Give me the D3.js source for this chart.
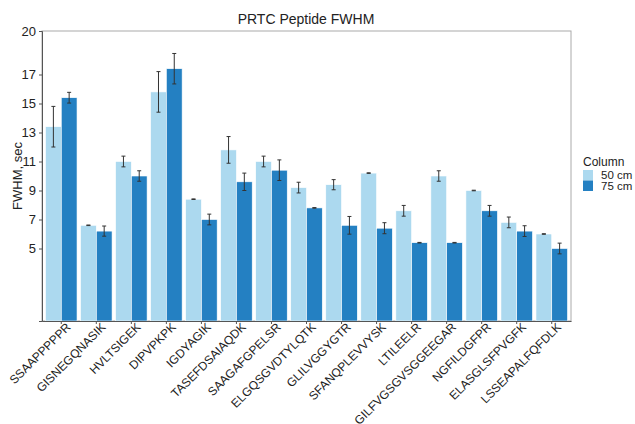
<!DOCTYPE html>
<html>
<head>
<meta charset="utf-8">
<script src="https://cdn.jsdelivr.net/npm/d3@7"></script>
<style>
  body { margin: 0; background: #fff; }
  svg text { font-family: "Liberation Sans", Arial, sans-serif; fill: #222; }
</style>
</head>
<body>
<svg id="chart" width="635" height="424"></svg>
<script>
// Peptides on the x axis
const peptides = ["SSAAPPPPPR", "GISNEGQNASIK", "HVLTSIGEK", "DIPVPKPK", "IGDYAGIK",
  "TASEFDSAIAQDK", "SAAGAFGPELSR", "ELGQSGVDTYLQTK", "GLILVGGYGTR", "SFANQPLEVVYSK",
  "LTILEELR", "GILFVGSGVSGGEEGAR", "NGFILDGFPR", "ELASGLSFPVGFK", "LSSEAPALFQFDLK"];
const columns = ["50 cm", "75 cm"];

// Mean FWHM (sec) and error (sec) per column
const fwhm50 = [13.4, 6.6, 11.0, 15.8, 8.4, 11.8, 11.0, 9.2, 9.4, 10.2, 7.6, 10.0, 9.0, 6.8, 6.0];
const err50  = [1.4, 0.02, 0.37, 1.4, 0.02, 0.92, 0.37, 0.37, 0.35, 0.02, 0.37, 0.36, 0.02, 0.37, 0.02];
const fwhm75 = [15.4, 6.2, 10.0, 17.4, 7.0, 9.6, 10.4, 7.8, 6.6, 6.4, 5.4, 5.4, 7.6, 6.2, 5.0];
const err75  = [0.37, 0.35, 0.36, 1.05, 0.37, 0.6, 0.71, 0.02, 0.61, 0.38, 0.02, 0.02, 0.37, 0.37, 0.37];

const yTicks = [5, 7, 9, 11, 13, 15, 17, 20];
const colors = ["#acd9ef", "#2480c2"];

const rows = peptides.map((p, i) => ({
  peptide: p,
  values: [
    { col: columns[0], v: fwhm50[i], e: err50[i] },
    { col: columns[1], v: fwhm75[i], e: err75[i] }
  ]
}));

const svg = d3.select("#chart");
const m = { left: 42, right: 64, top: 31, bottom: 103 };
const W = 635, H = 424;

const x = d3.scaleBand().domain(peptides).range([m.left, W - m.right])
  .paddingInner(0.1).paddingOuter(0.1);
const xs = d3.scaleBand().domain(columns).range([0, x.bandwidth()]);
const y = d3.scaleLinear().domain([0, 20]).range([H - m.bottom, m.top]);
const color = d3.scaleOrdinal().domain(columns).range(colors);

// frame
svg.append("rect")
  .attr("x", m.left).attr("y", m.top)
  .attr("width", W - m.left - m.right).attr("height", H - m.top - m.bottom)
  .attr("fill", "none").attr("stroke", "#aaa").attr("stroke-width", 1);

// bars
const g = svg.append("g").selectAll("g").data(rows).join("g")
  .attr("transform", d => `translate(${x(d.peptide)},0)`);

g.selectAll("rect").data(d => d.values).join("rect")
  .attr("x", d => xs(d.col))
  .attr("width", xs.bandwidth())
  .attr("y", d => y(d.v))
  .attr("height", d => y(0) - y(d.v))
  .attr("fill", d => color(d.col))
  .attr("stroke", "#fff").attr("stroke-width", 0.6);

// error bars
const eb = g.selectAll("g.err").data(d => d.values).join("g").attr("class", "err")
  .attr("transform", d => `translate(${xs(d.col) + xs.bandwidth() / 2},0)`);
eb.append("line")
  .attr("y1", d => y(d.v - d.e)).attr("y2", d => y(d.v + d.e))
  .attr("stroke", "#333").attr("stroke-width", 1);
eb.append("line")
  .attr("x1", -2).attr("x2", 2)
  .attr("y1", d => y(d.v + d.e)).attr("y2", d => y(d.v + d.e))
  .attr("stroke", "#333").attr("stroke-width", 1);
eb.append("line")
  .attr("x1", -2).attr("x2", 2)
  .attr("y1", d => y(d.v - d.e)).attr("y2", d => y(d.v - d.e))
  .attr("stroke", "#333").attr("stroke-width", 1);

// y axis
const yAxis = svg.append("g")
  .attr("transform", `translate(${m.left},0)`)
  .call(d3.axisLeft(y).tickValues(yTicks).tickSize(3).tickPadding(3));
yAxis.select(".domain").attr("stroke", "#555");
yAxis.selectAll(".tick line").attr("stroke", "#555");
yAxis.selectAll("text").style("font-size", "13px").attr("fill", "#222");

// x axis
const xAxis = svg.append("g")
  .attr("transform", `translate(0,${H - m.bottom})`)
  .call(d3.axisBottom(x).tickSize(3).tickSizeOuter(0));
xAxis.select(".domain").attr("stroke", "#555");
xAxis.selectAll(".tick line").attr("stroke", "#555");
xAxis.selectAll("text")
  .style("font-size", "12px").attr("fill", "#222")
  .attr("text-anchor", "end")
  .attr("dx", "0.2em").attr("dy", "0.5em")
  .attr("transform", "rotate(-45)");

// title
svg.append("text").attr("x", 306).attr("y", 24)
  .attr("text-anchor", "middle").style("font-size", "14px")
  .text("PRTC Peptide FWHM");

// y label
svg.append("text")
  .attr("transform", `translate(22,${(m.top + H - m.bottom) / 2}) rotate(-90)`)
  .attr("text-anchor", "middle").style("font-size", "13px")
  .text("FWHM, sec");

// legend
const lg = svg.append("g").attr("transform", "translate(583,0)");
lg.append("text").attr("x", 0).attr("y", 166).style("font-size", "12px").text("Column");
columns.forEach((c, i) => {
  lg.append("rect").attr("x", 0).attr("y", 170 + i * 10.5)
    .attr("width", 10).attr("height", 10.5).attr("fill", color(c));
  lg.append("text").attr("x", 18).attr("y", 179 + i * 10.5)
    .style("font-size", "11.5px").text(c);
});
</script>
</body>
</html>
